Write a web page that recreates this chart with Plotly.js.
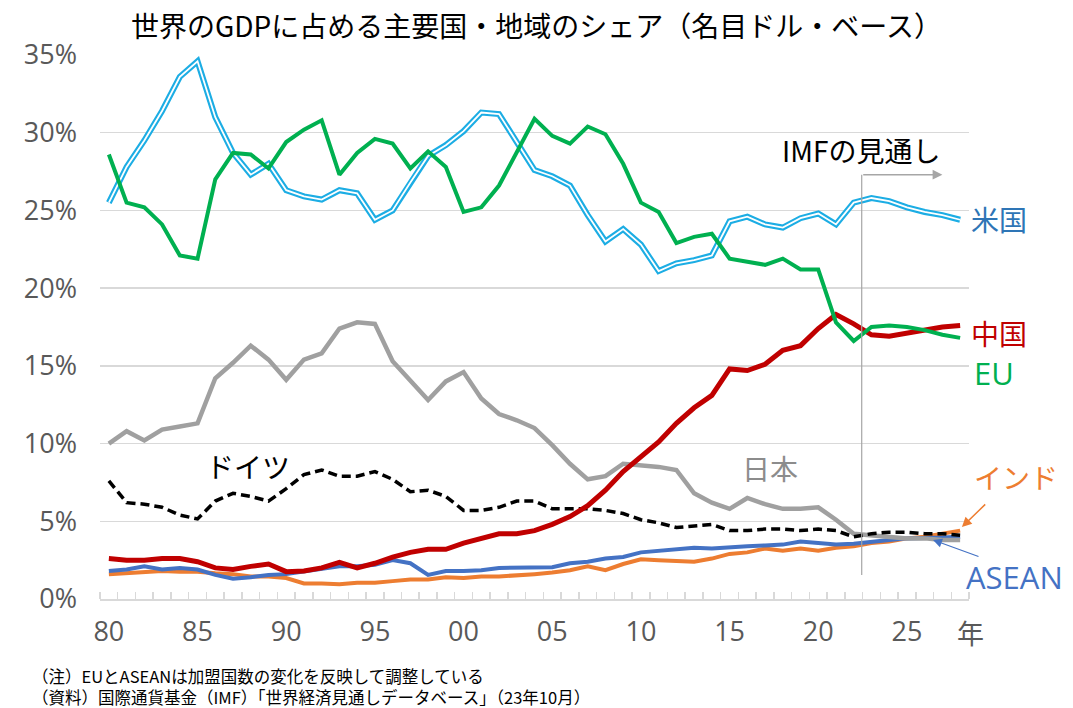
<!DOCTYPE html>
<html>
<head>
<meta charset="utf-8">
<script src="https://cdn.plot.ly/plotly-3.0.1.min.js"></script>
<style>html,body{margin:0;padding:0;background:#fff;}#chart{width:1073px;height:708px;}</style>
</head>
<body>
<div id="chart"></div>
<script>
const years = [];
for (let y = 1980; y <= 2028; y++) years.push(y);

const usShare = [25.5,27.8,29.5,31.4,33.6,34.6,31.0,28.7,27.3,28.0,
  26.3,25.9,25.7,26.3,26.1,24.4,25.0,26.8,28.5,29.2,
  30.1,31.3,31.2,29.4,27.6,27.2,26.6,24.7,23.0,23.8,
  22.8,21.1,21.6,21.8,22.1,24.3,24.6,24.1,23.9,24.5,
  24.8,24.1,25.5,25.8,25.6,25.2,24.9,24.7,24.4];
const euShare = [28.6,25.5,25.2,24.1,22.1,21.9,27.0,28.7,28.6,27.7,
  29.4,30.2,30.8,27.3,28.7,29.6,29.3,27.7,28.8,27.8,
  24.9,25.2,26.6,28.8,30.9,29.8,29.3,30.4,29.9,28.0,
  25.5,24.9,22.9,23.3,23.5,21.9,21.7,21.5,21.9,21.2,
  21.2,17.8,16.6,17.5,17.6,17.5,17.3,17.0,16.8];
const chinaShare = [2.6,2.5,2.5,2.6,2.6,2.4,2.0,1.9,2.1,2.25,
  1.76,1.8,2.0,2.35,2.0,2.3,2.7,3.0,3.2,3.2,
  3.6,3.9,4.2,4.2,4.4,4.8,5.3,6.0,7.0,8.2,
  9.1,10.1,11.3,12.3,13.1,14.8,14.7,15.1,16.0,16.3,
  17.4,18.3,17.7,17.0,16.9,17.1,17.3,17.5,17.6];
const japanShare = [10.0,10.8,10.2,10.9,11.1,11.3,14.2,15.2,16.3,15.4,
  14.1,15.4,15.8,17.4,17.8,17.7,15.3,14.1,12.8,14.0,
  14.6,12.9,11.9,11.5,11.0,9.9,8.7,7.7,7.9,8.7,
  8.6,8.5,8.3,6.8,6.2,5.8,6.5,6.1,5.8,5.8,
  5.9,5.1,4.2,4.1,4.0,3.9,3.9,3.8,3.8];
const germanyShare = [7.6,6.2,6.1,5.9,5.4,5.15,6.3,6.8,6.6,6.3,
  7.1,8.0,8.3,7.9,7.9,8.2,7.7,6.9,7.0,6.6,
  5.7,5.7,5.9,6.3,6.3,5.8,5.8,5.8,5.7,5.5,
  5.1,4.9,4.6,4.7,4.8,4.4,4.4,4.5,4.5,4.4,
  4.5,4.4,4.0,4.2,4.3,4.3,4.2,4.2,4.1];
const aseanShare = [1.8,1.9,2.1,1.9,2.0,1.9,1.55,1.3,1.4,1.55,
  1.6,1.75,1.9,2.1,2.1,2.2,2.5,2.3,1.55,1.8,
  1.8,1.85,2.0,2.0,2.0,2.05,2.3,2.4,2.6,2.7,
  3.0,3.1,3.25,3.3,3.25,3.35,3.4,3.45,3.5,3.7,
  3.6,3.5,3.55,3.7,3.8,3.9,3.9,3.95,4.0];
const indiaShare = [1.6,1.65,1.75,1.8,1.75,1.75,1.65,1.6,1.45,1.45,
  1.35,1.0,1.0,0.95,1.05,1.05,1.15,1.25,1.25,1.4,
  1.35,1.45,1.45,1.5,1.6,1.7,1.85,2.1,1.85,2.25,
  2.55,2.5,2.45,2.4,2.6,2.9,3.0,3.25,3.1,3.25,
  3.1,3.3,3.4,3.6,3.7,3.9,4.0,4.2,4.4];

const tickYears = [1980,1985,1990,1995,2000,2005,2010,2015,2020,2025];
const tickLabels = ['80','85','90','95','00','05','10','15','20','25'];
const yTicks = [0,5,10,15,20,25,30,35];
const yTickLabels = ['0%','5%','10%','15%','20%','25%','30%','35%'];

const JP = '"Noto Sans CJK JP", "Noto Sans", sans-serif';
const NUM = '"Open Sans", "Noto Sans", sans-serif';

function line(y, color, width, dash) {
  return {x: years, y: y, type: 'scatter', mode: 'lines', hoverinfo: 'skip',
    line: {color: color, width: width, dash: dash || 'solid'}};
}

const traces = [
  line(indiaShare, '#ED7D31', 4),
  line(aseanShare, '#4472C4', 4),
  line(japanShare, '#A0A0A0', 4.5),
  line(germanyShare, '#000000', 3.5, '9px,5px'),
  line(chinaShare, '#C00000', 5),
  line(usShare, '#1CADE4', 6),
  line(usShare, '#FFFFFF', 1.8),
  line(euShare, '#00B050', 4)
];

function dlabel(text, x, y, color, size) {
  return {text: text, x: x, y: y, xref: 'x', yref: 'y', showarrow: false,
    font: {family: JP, size: size || 28, color: color}, xanchor: 'center', yanchor: 'middle'};
}
function plabel(text, x, y, color, size, family) {
  return {text: text, x: x, y: y, xref: 'paper', yref: 'paper', showarrow: false,
    font: {family: family || JP, size: size || 28, color: color}, xanchor: 'center', yanchor: 'middle'};
}

const annotations = [
  plabel('米国', 1.0345, 0.6985, '#2E75B6'),
  plabel('中国', 1.0345, 0.489, '#C00000'),
  plabel('EU', 1.0288, 0.4154, '#00B050', 31, NUM),
  dlabel('IMFの見通し', 2022.4, 28.9, '#000000', 28),
  dlabel('日本', 2017.3, 8.43, '#8C8C8C'),
  dlabel('ドイツ', 1987.85, 8.56, '#000000'),
  plabel('インド', 1.0541, 0.2243, '#ED7D31'),
  plabel('ASEAN', 1.0529, 0.0404, '#4472C4', 31, NUM),
  plabel('年', 1.0023, -0.0607, '#595959', 27),
  {x: 2027.0, y: 27.3, ax: 2022.45, ay: 27.3, xref: 'x', yref: 'y', axref: 'x', ayref: 'y',
   text: '', showarrow: true, arrowhead: 2, arrowsize: 1.3, arrowwidth: 1.5, arrowcolor: '#A6A6A6'},
  {x: 2028.1, y: 4.63, ax: 2029.5, ay: 6.18, xref: 'x', yref: 'y', axref: 'x', ayref: 'y',
   text: '', showarrow: true, arrowhead: 2, arrowsize: 1.3, arrowwidth: 1.5, arrowcolor: '#ED7D31'},
  {x: 2026.47, y: 3.80, ax: 2029.12, ay: 2.70, xref: 'x', yref: 'y', axref: 'x', ayref: 'y',
   text: '', showarrow: true, arrowhead: 2, arrowsize: 1.5, arrowwidth: 1.2, arrowcolor: '#4472C4'},
  {text: '（注）EUとASEANは加盟国数の変化を反映して調整している<br>（資料）国際通貨基金（IMF）「世界経済見通しデータベース」（23年10月）',
   xref: 'paper', yref: 'paper', align: 'left',
   x: -0.0806, y: -0.1608, xanchor: 'left', yanchor: 'middle', showarrow: false,
   font: {family: JP, size: 16.5, color: '#000000'}}
];

const layout = {
  width: 1073, height: 708,
  margin: {l: 100, r: 104, t: 55, b: 109},
  paper_bgcolor: '#ffffff', plot_bgcolor: '#ffffff',
  showlegend: false,
  title: {text: '世界のGDPに占める主要国・地域のシェア（名目ドル・ベース）',
    font: {family: JP, size: 28, color: '#000000'}, x: 0.5, xanchor: 'center', y: 0.962, yanchor: 'middle'},
  xaxis: {
    range: [1979.5, 2028.5], tickvals: tickYears, ticktext: tickLabels,
    ticks: '', showgrid: false, zeroline: false,
    showline: true, linecolor: '#D9D9D9', linewidth: 1.5,
    tickfont: {family: NUM, size: 27, color: '#595959'},
    ticklabelstandoff: 8,
    minor: {ticks: 'inside', tick0: 1979.5, dtick: 1, ticklen: 7, tickcolor: '#D9D9D9', tickwidth: 1.5, showgrid: false}
  },
  yaxis: {
    range: [0, 35], tickvals: yTicks, ticktext: yTickLabels,
    showgrid: true, gridcolor: '#D9D9D9', gridwidth: 1.5, zeroline: false,
    tickfont: {family: NUM, size: 27, color: '#595959'},
    ticklabelstandoff: 22
  },
  shapes: [
    {type: 'line', xref: 'x', yref: 'y', x0: 2022.45, x1: 2022.45, y0: 1.55, y1: 27.3,
     line: {color: '#A6A6A6', width: 1.2}}
  ],
  annotations: annotations
};

Plotly.newPlot('chart', traces, layout, {staticPlot: true, displayModeBar: false});
</script>
</body>
</html>
